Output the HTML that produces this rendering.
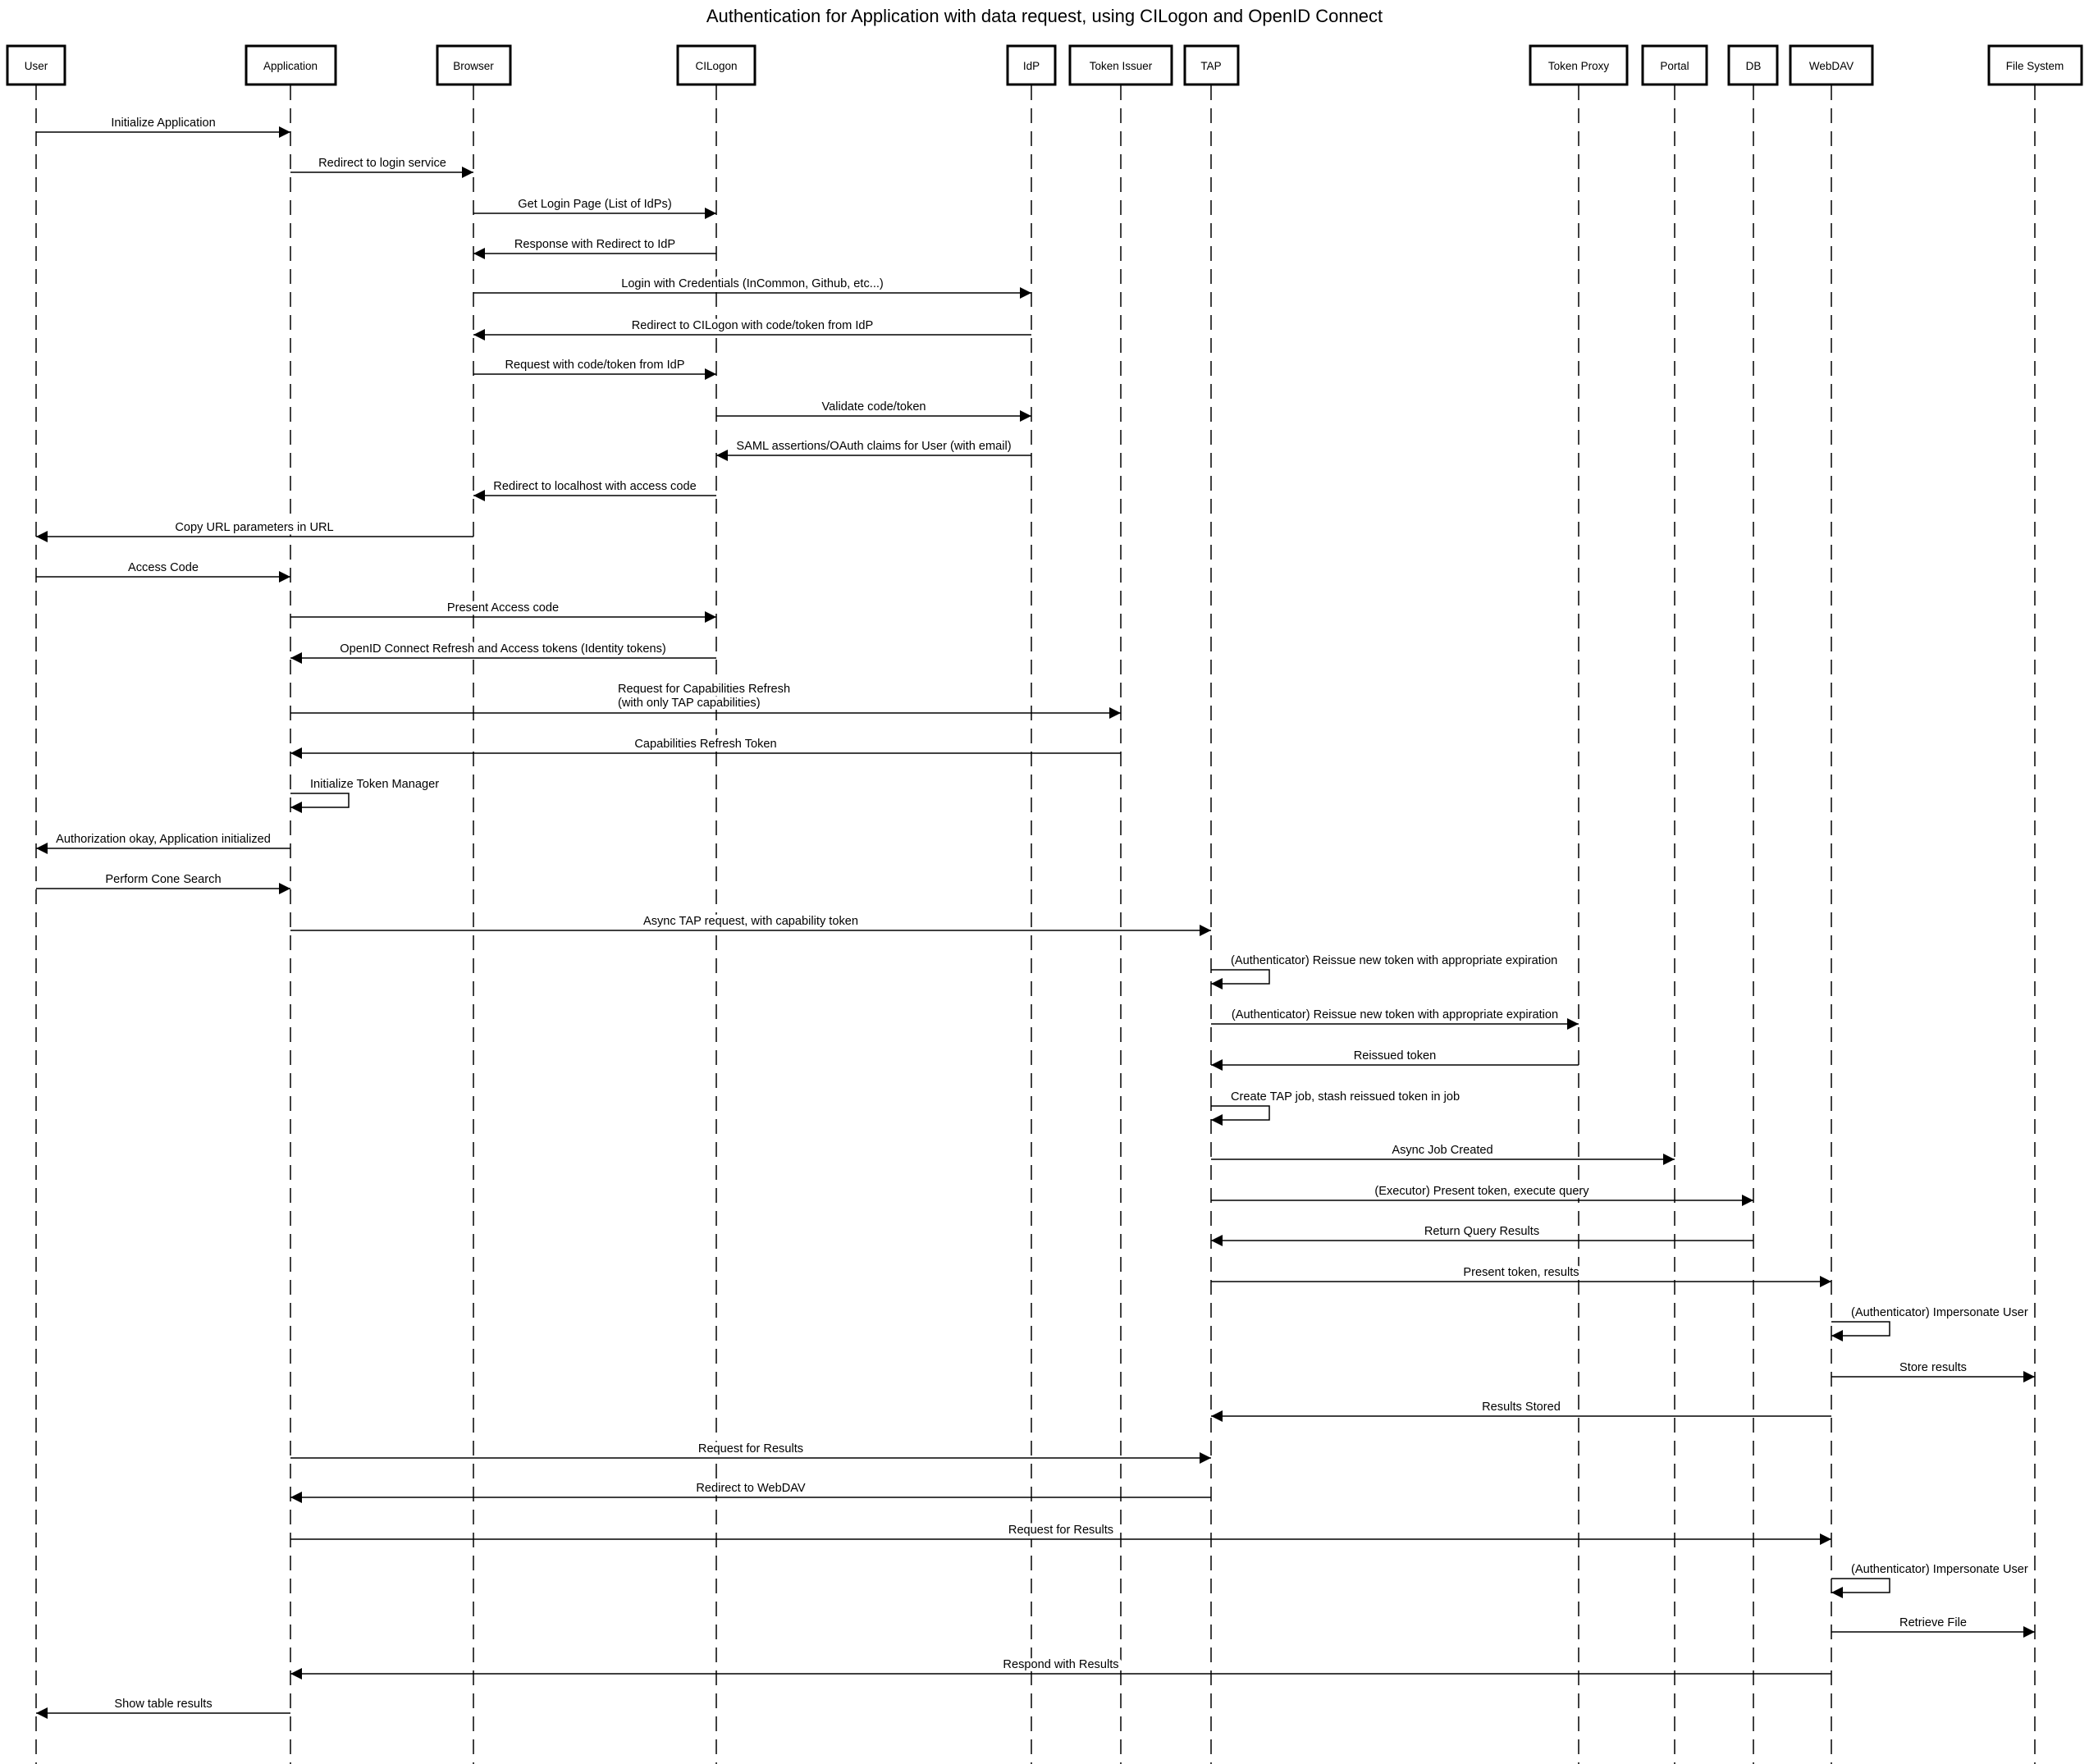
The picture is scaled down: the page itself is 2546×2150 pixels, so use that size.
<!DOCTYPE html>
<html><head><meta charset="utf-8"><style>
html,body{margin:0;padding:0;background:#fff;}
svg{display:block;}
text{font-family:"Liberation Sans",Arial,sans-serif;fill:#000;}
.lb text{stroke:#fff;stroke-width:9;paint-order:stroke;stroke-linejoin:round;}
</style></head><body>
<svg xmlns="http://www.w3.org/2000/svg" width="2546" height="2150" viewBox="0 0 2546 2150">
<defs>
<marker id="a" markerUnits="userSpaceOnUse" markerWidth="15" markerHeight="16" refX="14" refY="7" orient="auto"><path d="M0,0 L14,7 L0,14 z" fill="#000"/></marker>
</defs>
<text x="1273" y="27" font-size="22" text-anchor="middle">Authentication for Application with data request, using CILogon and OpenID Connect</text>
<g stroke="#000" stroke-width="1.5" stroke-dasharray="18,10" fill="none">
<line x1="44" y1="104" x2="44" y2="2150"/>
<line x1="354" y1="104" x2="354" y2="2150"/>
<line x1="577" y1="104" x2="577" y2="2150"/>
<line x1="873" y1="104" x2="873" y2="2150"/>
<line x1="1257" y1="104" x2="1257" y2="2150"/>
<line x1="1366" y1="104" x2="1366" y2="2150"/>
<line x1="1476" y1="104" x2="1476" y2="2150"/>
<line x1="1924" y1="104" x2="1924" y2="2150"/>
<line x1="2041" y1="104" x2="2041" y2="2150"/>
<line x1="2137" y1="104" x2="2137" y2="2150"/>
<line x1="2232" y1="104" x2="2232" y2="2150"/>
<line x1="2480" y1="104" x2="2480" y2="2150"/>
</g>
<g stroke="#000" stroke-width="3" fill="#fff">
<rect x="9" y="56" width="70" height="47"/>
<rect x="300" y="56" width="109" height="47"/>
<rect x="533" y="56" width="89" height="47"/>
<rect x="826" y="56" width="94" height="47"/>
<rect x="1228" y="56" width="58" height="47"/>
<rect x="1304" y="56" width="124" height="47"/>
<rect x="1444" y="56" width="65" height="47"/>
<rect x="1865" y="56" width="118" height="47"/>
<rect x="2002" y="56" width="78" height="47"/>
<rect x="2107" y="56" width="59" height="47"/>
<rect x="2182" y="56" width="100" height="47"/>
<rect x="2424" y="56" width="113" height="47"/>
</g>
<g font-size="13.5" text-anchor="middle">
<text x="44" y="85">User</text>
<text x="354" y="85">Application</text>
<text x="577" y="85">Browser</text>
<text x="873" y="85">CILogon</text>
<text x="1257" y="85">IdP</text>
<text x="1366" y="85">Token Issuer</text>
<text x="1476" y="85">TAP</text>
<text x="1924" y="85">Token Proxy</text>
<text x="2041" y="85">Portal</text>
<text x="2137" y="85">DB</text>
<text x="2232" y="85">WebDAV</text>
<text x="2480" y="85">File System</text>
</g>
<g class="lb" font-size="14.6" text-anchor="middle">
<text x="199" y="154">Initialize Application</text>
<text x="466" y="203">Redirect to login service</text>
<text x="725" y="253">Get Login Page (List of IdPs)</text>
<text x="725" y="302">Response with Redirect to IdP</text>
<text x="917" y="350">Login with Credentials (InCommon, Github, etc...)</text>
<text x="917" y="401">Redirect to CILogon with code/token from IdP</text>
<text x="725" y="449">Request with code/token from IdP</text>
<text x="1065" y="500">Validate code/token</text>
<text x="1065" y="548">SAML assertions/OAuth claims for User (with email)</text>
<text x="725" y="597">Redirect to localhost with access code</text>
<text x="310" y="647">Copy URL parameters in URL</text>
<text x="199" y="696">Access Code</text>
<text x="613" y="745">Present Access code</text>
<text x="613" y="795">OpenID Connect Refresh and Access tokens (Identity tokens)</text>
<text x="860" y="911">Capabilities Refresh Token</text>
<text x="199" y="1027">Authorization okay, Application initialized</text>
<text x="199" y="1076">Perform Cone Search</text>
<text x="915" y="1127">Async TAP request, with capability token</text>
<text x="1700" y="1241">(Authenticator) Reissue new token with appropriate expiration</text>
<text x="1700" y="1291">Reissued token</text>
<text x="1758" y="1406">Async Job Created</text>
<text x="1806" y="1456">(Executor) Present token, execute query</text>
<text x="1806" y="1505">Return Query Results</text>
<text x="1854" y="1555">Present token, results</text>
<text x="2356" y="1671">Store results</text>
<text x="1854" y="1719">Results Stored</text>
<text x="915" y="1770">Request for Results</text>
<text x="915" y="1818">Redirect to WebDAV</text>
<text x="1293" y="1869">Request for Results</text>
<text x="2356" y="1982">Retrieve File</text>
<text x="1293" y="2033">Respond with Results</text>
<text x="199" y="2081">Show table results</text>
</g>
<g class="lb" font-size="14.6">
<text x="753" y="844">Request for Capabilities Refresh</text>
<text x="753" y="861">(with only TAP capabilities)</text>
<text x="378" y="960">Initialize Token Manager</text>
<text x="1500" y="1175">(Authenticator) Reissue new token with appropriate expiration</text>
<text x="1500" y="1341">Create TAP job, stash reissued token in job</text>
<text x="2256" y="1604">(Authenticator) Impersonate User</text>
<text x="2256" y="1917">(Authenticator) Impersonate User</text>
</g>
<g stroke="#000" stroke-width="1.5" fill="none" marker-end="url(#a)">
<line x1="44" y1="161" x2="354" y2="161"/>
<line x1="354" y1="210" x2="577" y2="210"/>
<line x1="577" y1="260" x2="873" y2="260"/>
<line x1="873" y1="309" x2="577" y2="309"/>
<line x1="577" y1="357" x2="1257" y2="357"/>
<line x1="1257" y1="408" x2="577" y2="408"/>
<line x1="577" y1="456" x2="873" y2="456"/>
<line x1="873" y1="507" x2="1257" y2="507"/>
<line x1="1257" y1="555" x2="873" y2="555"/>
<line x1="873" y1="604" x2="577" y2="604"/>
<line x1="577" y1="654" x2="44" y2="654"/>
<line x1="44" y1="703" x2="354" y2="703"/>
<line x1="354" y1="752" x2="873" y2="752"/>
<line x1="873" y1="802" x2="354" y2="802"/>
<line x1="354" y1="869" x2="1366" y2="869"/>
<line x1="1366" y1="918" x2="354" y2="918"/>
<polyline points="354,967 425,967 425,984 354,984"/>
<line x1="354" y1="1034" x2="44" y2="1034"/>
<line x1="44" y1="1083" x2="354" y2="1083"/>
<line x1="354" y1="1134" x2="1476" y2="1134"/>
<polyline points="1476,1182 1547,1182 1547,1199 1476,1199"/>
<line x1="1476" y1="1248" x2="1924" y2="1248"/>
<line x1="1924" y1="1298" x2="1476" y2="1298"/>
<polyline points="1476,1348 1547,1348 1547,1365 1476,1365"/>
<line x1="1476" y1="1413" x2="2041" y2="1413"/>
<line x1="1476" y1="1463" x2="2137" y2="1463"/>
<line x1="2137" y1="1512" x2="1476" y2="1512"/>
<line x1="1476" y1="1562" x2="2232" y2="1562"/>
<polyline points="2232,1611 2303,1611 2303,1628 2232,1628"/>
<line x1="2232" y1="1678" x2="2480" y2="1678"/>
<line x1="2232" y1="1726" x2="1476" y2="1726"/>
<line x1="354" y1="1777" x2="1476" y2="1777"/>
<line x1="1476" y1="1825" x2="354" y2="1825"/>
<line x1="354" y1="1876" x2="2232" y2="1876"/>
<polyline points="2232,1924 2303,1924 2303,1941 2232,1941"/>
<line x1="2232" y1="1989" x2="2480" y2="1989"/>
<line x1="2232" y1="2040" x2="354" y2="2040"/>
<line x1="354" y1="2088" x2="44" y2="2088"/>
</g>
</svg>
</body></html>
